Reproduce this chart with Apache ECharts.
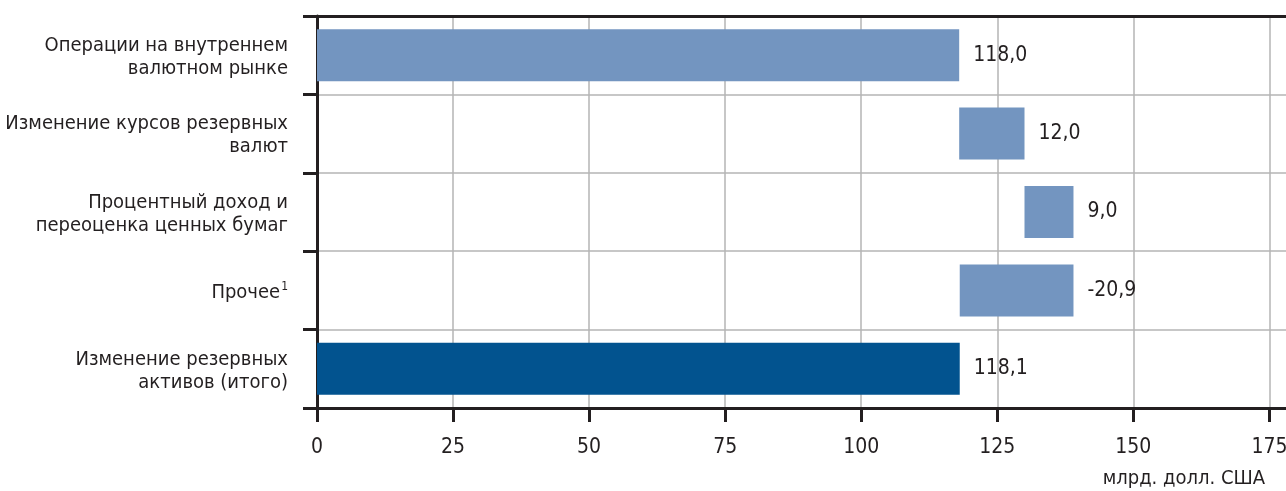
<!DOCTYPE html>
<html>
<head>
<meta charset="utf-8">
<style>
  html, body { margin: 0; padding: 0; background: #ffffff; }
  #chart { width: 1286px; height: 491px; }
</style>
<script src="https://cdn.jsdelivr.net/npm/echarts@6/dist/echarts.min.js"></script>
</head>
<body>
<div id="chart"></div>
<script>
// Components of the change in reserve assets, bn USD
const categories = [
  'Операции на внутреннем\nвалютном рынке',
  'Изменение курсов резервных\nвалют',
  'Процентный доход и\nпереоценка ценных бумаг',
  'Прочее',
  'Изменение резервных\nактивов (итого)'
];
const footnotes = ['', '', '', '1', ''];
const values = [118.0, 12.0, 9.0, -20.9, 118.1];
const isTotal = [false, false, false, false, true];
const xTicks = [0, 25, 50, 75, 100, 125, 150, 175];
const unitLabel = 'млрд. долл. США';

const FONT = '"DejaVu Sans Condensed", "Liberation Sans Narrow", sans-serif';
const INK = '#231f20';
const STEP_COLOR = '#7395c0';
const TOTAL_COLOR = '#02538f';

// Waterfall: an invisible offset series plus the visible bar lengths
const offsets = [];
const lengths = [];
let running = 0;
values.forEach((v, i) => {
  if (isTotal[i]) {
    offsets.push(0);
    lengths.push(v);
  } else {
    offsets.push(v >= 0 ? running : running + v);
    lengths.push(Math.abs(v));
    running += v;
  }
});

const fmt = v => v.toFixed(1).replace('.', ',');

const chart = echarts.init(document.getElementById('chart'));
const xMin = xTicks[0];
const xStep = xTicks[1] - xTicks[0];
// the axis runs a little past the last labelled tick, to the page edge
const xMax = 178.6;

chart.setOption({
  animation: false,
  textStyle: { fontFamily: FONT, color: INK },
  grid: { left: 317, right: -3, top: 16, bottom: 83, containLabel: false, outerBoundsMode: 'none' },
  xAxis: [
    {
      type: 'value',
      position: 'bottom',
      min: xMin,
      max: xMax,
      interval: xStep,
      axisLine: { show: true, lineStyle: { color: INK, width: 3 } },
      axisTick: { show: true, length: 14, lineStyle: { color: INK, width: 3 } },
      axisLabel: {
        showMaxLabel: false,
        margin: 29,
        fontSize: 21,
        fontFamily: FONT,
        color: INK,
        formatter: v => (xTicks.indexOf(v) >= 0 ? String(v) : '')
      },
      splitLine: { show: true, lineStyle: { color: '#b4b4b4', width: 1.5 } },
      name: unitLabel,
      nameLocation: 'end',
      nameGap: 0,
      nameTextStyle: {
        fontFamily: FONT,
        fontSize: 20,
        color: INK,
        align: 'right',
        verticalAlign: 'top',
        padding: [61, 24, 0, 0]
      }
    },
    {
      type: 'value',
      position: 'top',
      min: xMin,
      max: xMax,
      interval: xStep,
      axisLine: { show: true, lineStyle: { color: INK, width: 3 } },
      axisTick: { show: false },
      axisLabel: { show: false },
      splitLine: { show: false }
    }
  ],
  yAxis: {
    type: 'category',
    inverse: true,
    data: categories,
    axisLine: { show: true, lineStyle: { color: INK, width: 3 } },
    axisTick: { show: true, length: 14, lineStyle: { color: INK, width: 3 } },
    splitLine: { show: true, lineStyle: { color: '#b4b4b4', width: 1.5 } },
    axisLabel: {
      margin: 29,
      align: 'right',
      fontFamily: FONT,
      fontSize: 20,
      lineHeight: 23,
      color: INK,
      padding: [4, 0, 0, 0],
      formatter: (v, i) => {
        const note = footnotes[i];
        const lines = v.split('\n').map(s => '{t|' + s + '}');
        if (note) lines[lines.length - 1] += '{sup|' + note + '}';
        return lines.join('\n');
      },
      rich: {
        t: { fontFamily: FONT, fontSize: 20, lineHeight: 23, color: INK },
        sup: { fontFamily: FONT, fontSize: 12, lineHeight: 23, verticalAlign: 'top', color: INK, padding: [0, 0, 8, 1] }
      }
    }
  },
  series: [
    {
      name: 'offset',
      type: 'bar',
      stack: 'wf',
      barWidth: 52,
      silent: true,
      itemStyle: { color: 'transparent' },
      data: offsets
    },
    {
      name: 'value',
      type: 'bar',
      stack: 'wf',
      barWidth: 52,
      data: lengths.map((len, i) => ({
        value: len,
        itemStyle: { color: isTotal[i] ? TOTAL_COLOR : STEP_COLOR }
      })),
      label: {
        show: true,
        position: 'right',
        distance: 14,
        fontFamily: FONT,
        fontSize: 21,
        color: INK,
        formatter: p => fmt(values[p.dataIndex])
      }
    }
  ]
});
</script>
</body>
</html>
